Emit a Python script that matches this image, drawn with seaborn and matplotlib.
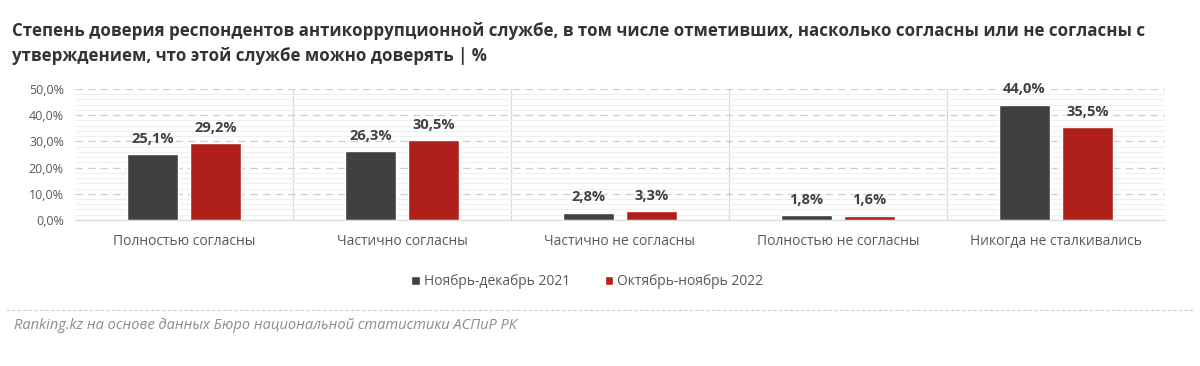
import pandas as pd
import numpy as np
import seaborn as sns
import matplotlib.pyplot as plt
from matplotlib.ticker import MultipleLocator, FuncFormatter

categories = ['Полностью согласны', 'Частично согласны', 'Частично не согласны',
              'Полностью не согласны', 'Никогда не сталкивались']
period_2021 = 'Ноябрь-декабрь 2021'
period_2022 = 'Октябрь-ноябрь 2022'
values_2021 = [25.1, 26.3, 2.8, 1.8, 44.0]
values_2022 = [29.2, 30.5, 3.3, 1.6, 35.5]

df = pd.DataFrame({
    'Category': categories * 2,
    'Period': [period_2021] * 5 + [period_2022] * 5,
    'Value': values_2021 + values_2022,
})

sns.set_style('white')
plt.rcParams['font.family'] = ['Open Sans', 'DejaVu Sans']

fig = plt.figure(figsize=(12, 3.66), dpi=100)
ax = fig.add_axes([0.0625, 0.399, 0.9083, 0.358])

palette = {period_2021: '#404040', period_2022: '#B0201A'}
sns.barplot(data=df, x='Category', y='Value', hue='Period', palette=palette,
            width=0.58, gap=0.2, ax=ax, legend=True, saturation=1)

ax.set_xlim(-0.5, 4.5)
ax.set_ylim(0, 50)
ax.yaxis.set_major_locator(MultipleLocator(10))
ax.yaxis.set_minor_locator(MultipleLocator(2))
ax.yaxis.set_major_formatter(FuncFormatter(lambda v, p: f'{v:.1f}%'.replace('.', ',')))
ax.grid(axis='y', which='minor', color='#efefef', linewidth=0.8)
ax.grid(axis='y', which='major', color='#cfcfcf', linewidth=0.9, linestyle=(0, (6, 4)))
ax.set_axisbelow(True)
for x in [0.5, 1.5, 2.5, 3.5]:
    ax.axvline(x, color='#d9d9d9', linewidth=0.9, zorder=0)

for s in ['top', 'right', 'left']:
    ax.spines[s].set_visible(False)
ax.spines['bottom'].set_color('#d9d9d9')
ax.tick_params(axis='y', length=0, labelsize=9, labelcolor='#595959', pad=8)
ax.tick_params(axis='x', length=0, labelsize=10, labelcolor='#595959', pad=10)
ax.set_xlabel('')
ax.set_ylabel('')

for cont in ax.containers:
    ax.bar_label(cont, labels=[f'{v:.1f}%'.replace('.', ',') for v in cont.datavalues],
                 padding=6, fontsize=10.5, fontweight='bold', color='#404040')

leg = ax.legend(loc='upper center', bbox_to_anchor=(0.47, -0.32), ncol=2, frameon=False,
                fontsize=10, handlelength=0.6, handleheight=0.6, handletextpad=0.3,
                columnspacing=2.5)
for t in leg.get_texts():
    t.set_color('#595959')

fig.text(0.01, 0.915, 'Степень доверия респондентов антикоррупционной службе, в том числе отметивших, насколько согласны или не согласны с',
         fontsize=12.2, fontweight='bold', color='#333333', va='center')
fig.text(0.01, 0.848, 'утверждением, что этой службе можно доверять | %',
         fontsize=12.2, fontweight='bold', color='#333333', va='center')

fig.add_artist(plt.Line2D([0.005, 0.995], [0.153, 0.153], color='#cccccc',
                          linewidth=0.8, linestyle=(0, (3, 2))))
fig.text(0.012, 0.112, 'Ranking.kz на основе данных Бюро национальной статистики АСПиР РК',
         fontsize=10.5, style='italic', color='#8c8c8c', va='center')

fig.savefig('out.png', dpi=100)
